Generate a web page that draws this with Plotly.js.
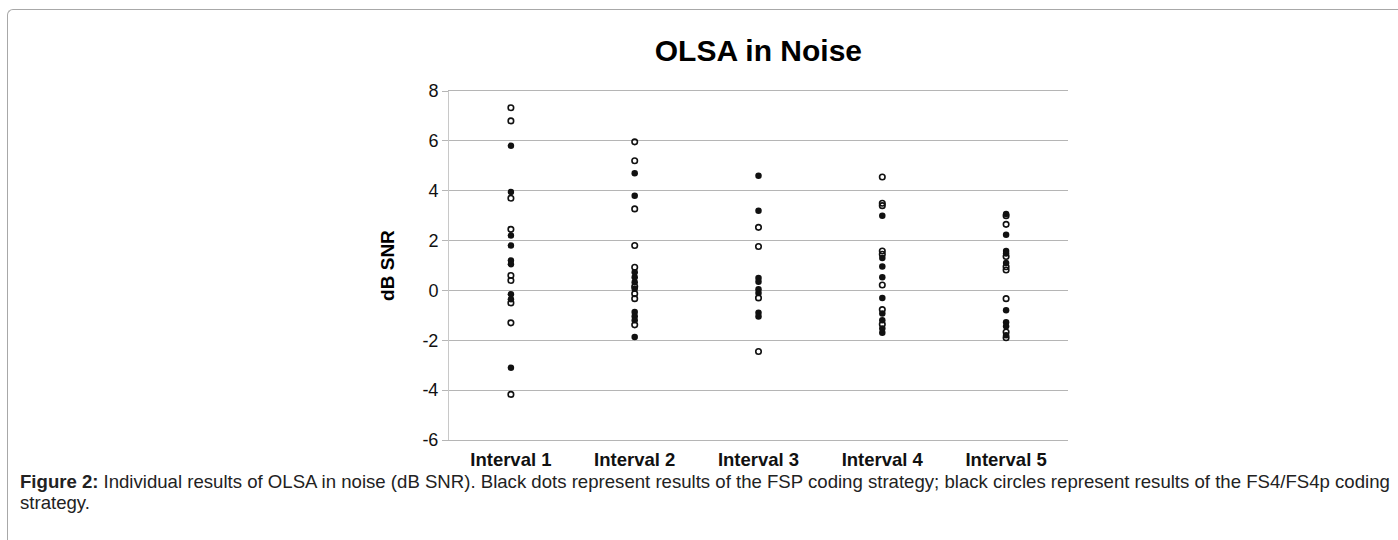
<!DOCTYPE html>
<html>
<head>
<meta charset="utf-8">
<script src="https://cdn.plot.ly/plotly-3.0.1.min.js"></script>
<style>
  html, body { margin: 0; padding: 0; background: #fff; width: 1398px; height: 540px; overflow: hidden; }
  #frame { position: absolute; left: 7px; top: 9px; width: 1400px; height: 540px;
           border-top: 1px solid #a8a8a8; border-left: 1px solid #a8a8a8; border-top-left-radius: 6px; }
  #chart { position: absolute; left: 0; top: 0; width: 1398px; height: 540px; }
  .cap { position: absolute; left: 20px; white-space: nowrap;
         font-family: "Liberation Sans", Arial, sans-serif; font-size: 18.6px; line-height: 21px; color: #222; }
  .cap .bold { font-weight: bold; margin-right: 5px; }
</style>
</head>
<body>
<div id="frame"></div>
<div id="chart"></div>
<div class="cap" style="top:471px;"><span class="bold">Figure 2:</span><span>Individual results of OLSA in noise (dB SNR). Black dots represent results of the FSP coding strategy; black circles represent results of the FS4/FS4p coding</span></div>
<div class="cap" style="top:492px;"><span>strategy.</span></div>
<script>
// Categories
const categories = ["Interval 1", "Interval 2", "Interval 3", "Interval 4", "Interval 5"];

// FSP (black dots), per interval
const fsp1 = [5.8, 3.95, 2.2, 1.8, 1.2, 1.05, -0.15, -0.35, -3.1];
const fsp2 = [4.7, 3.8, 0.73, 0.53, 0.33, 0.07, -0.87, -1.04, -1.2, -1.87];
const fsp3 = [4.6, 3.2, 0.5, 0.35, 0.05, -0.1, -0.9, -1.05];
const fsp4 = [3.0, 1.3, 0.96, 0.53, -0.3, -0.93, -1.2, -1.53, -1.7];
const fsp5 = [3.07, 2.23, 1.58, 1.48, 1.1, -0.8, -1.28, -1.44, -1.8];

// FS4/FS4p (black circles), per interval
const fs4_1 = [7.33, 6.8, 3.7, 2.45, 0.6, 0.4, -0.5, -1.3, -4.17];
const fs4_2 = [5.96, 5.2, 3.27, 1.8, 0.93, 0.16, -0.13, -0.33, -1.38];
const fs4_3 = [2.53, 1.76, -0.3, -2.45];
const fs4_4 = [4.55, 3.5, 3.4, 1.58, 1.45, 0.22, -0.77, -1.36];
const fs4_5 = [3.0, 2.65, 1.36, 0.95, 0.82, -0.33, -1.67, -1.9];

// Y tick labels
const yTickVals = [-6, -4, -2, 0, 2, 4, 6, 8];
const yTickText = ["-6", "-4", "-2", "0", "2", "4", "6", "8"];

function flatten(groups) {
  const xs = [], ys = [];
  groups.forEach((g, i) => g.forEach(v => { xs.push(categories[i]); ys.push(v); }));
  return {xs, ys};
}
const fsp = flatten([fsp1, fsp2, fsp3, fsp4, fsp5]);
const fs4 = flatten([fs4_1, fs4_2, fs4_3, fs4_4, fs4_5]);

const traces = [
  { type: "scatter", mode: "markers", name: "FS4/FS4p", x: fs4.xs, y: fs4.ys,
    marker: { symbol: "circle-open", size: 5.5, color: "#111", line: { width: 1.6, color: "#111" } } },
  { type: "scatter", mode: "markers", name: "FSP", x: fsp.xs, y: fsp.ys,
    marker: { symbol: "circle", size: 6.5, color: "#111", line: { width: 0 } } }
];

const layout = {
  width: 1398, height: 540,
  margin: { l: 449, r: 330, t: 91, b: 100, pad: 0 },
  paper_bgcolor: "rgba(0,0,0,0)", plot_bgcolor: "rgba(0,0,0,0)",
  showlegend: false,
  font: { family: "Liberation Sans, Arial, sans-serif", color: "#000" },
  title: { text: "<b>OLSA in Noise</b>", x: 0.5425, xanchor: "center", y: 0.907, yanchor: "middle",
           font: { size: 30, color: "#000" } },
  xaxis: {
    type: "category", categoryorder: "array", categoryarray: categories,
    range: [-0.5, 4.5], showgrid: false, zeroline: false,
    showline: true, mirror: true, linecolor: "#b5b5b5", linewidth: 1,
    ticks: "", tickfont: { size: 18.5, color: "#111", weight: "bold" }, ticklabelstandoff: 3
  },
  yaxis: {
    range: [-6, 8], tickmode: "array", tickvals: yTickVals, ticktext: yTickText,
    showgrid: true, gridcolor: "#b5b5b5", gridwidth: 1, zeroline: false,
    showline: true, linecolor: "#c8c8c8", linewidth: 1,
    ticks: "outside", ticklen: 6, tickcolor: "#b5b5b5",
    tickfont: { size: 18, color: "#111" },
    title: { text: "<b>dB SNR</b>", font: { size: 19, color: "#000" }, standoff: 22 }
  }
};

Plotly.newPlot("chart", traces, layout, { staticPlot: true, displayModeBar: false });
</script>
</body>
</html>
